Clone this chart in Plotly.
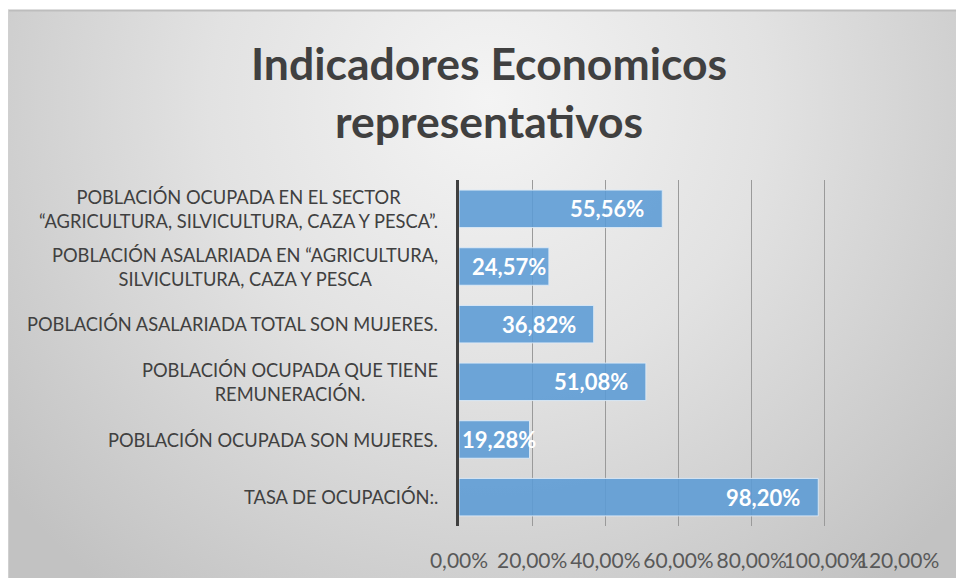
import base64
import plotly.graph_objects as go

# ---- data ----
categories = [
    "POBLACIÓN OCUPADA EN EL SECTOR<br>“AGRICULTURA, SILVICULTURA, CAZA Y PESCA”.",
    "POBLACIÓN ASALARIADA EN “AGRICULTURA,<br>SILVICULTURA, CAZA Y PESCA",
    "POBLACIÓN ASALARIADA TOTAL SON MUJERES.",
    "POBLACIÓN OCUPADA QUE TIENE<br>REMUNERACIÓN.",
    "POBLACIÓN OCUPADA SON MUJERES.",
    "TASA DE OCUPACIÓN:.",
]
values = [0.5556, 0.2457, 0.3682, 0.5108, 0.1928, 0.9820]
x_ticks = [0, 0.2, 0.4, 0.6, 0.8, 1.0, 1.2]
title_text = "Indicadores Economicos<br>representativos"

# ---- layout geometry (pixels) ----
W, H = 956, 578
L, R, T, B = 459, 898, 180, 526
PW, PH = R - L, B - T
XMAX = 1.2

def px(xp):
    return (xp - L) / PW

def py(yp):
    return (B - yp) / PH

FONT = "Lato, 'Open Sans', sans-serif"
ids = list(range(len(categories)))

fig = go.Figure()
fig.add_trace(go.Bar(
    y=ids, x=values, orientation="h",
    marker=dict(color="rgba(91,155,213,0.88)",
                line=dict(color="rgba(222,235,247,0.9)", width=1)),
    width=0.65,
    hoverinfo="skip",
))

annotations = []
# category labels (centered multi-line, right edge near axis)
for i, c in zip(ids, categories):
    annotations.append(dict(
        x=px(440), xref="paper", y=i, yref="y",
        text=c, showarrow=False, xanchor="right", yanchor="middle",
        align="center", font=dict(family=FONT, size=18.3, color="#404040"),
    ))
# data labels (inside end; centred when the bar is too short)
LABEL_W = 72
for i, v in zip(ids, values):
    bar_px = v / XMAX * PW
    if bar_px >= LABEL_W + 32:
        pos = dict(x=v, xanchor="right", xshift=-16)
    else:
        pos = dict(x=v / 2, xanchor="center", xshift=5)
    annotations.append(dict(
        xref="x", y=i, yref="y",
        text=f"{v*100:.2f}".replace(".", ",") + "%",
        showarrow=False, yanchor="middle",
        font=dict(family=FONT, size=22, color="white", weight="bold"),
        **pos,
    ))
# title
annotations.append(dict(
    x=px(489), xref="paper", y=py(91), yref="paper",
    text=title_text, showarrow=False, xanchor="center", yanchor="middle",
    align="center", font=dict(family=FONT, size=44.5, color="#404040", weight="bold"),
))

# radial gradient background
svg = f'''<svg xmlns="http://www.w3.org/2000/svg" width="{W-8}" height="{H-10}" viewBox="0 0 {W-8} {H-10}" preserveAspectRatio="none">
<defs><radialGradient id="g" gradientUnits="userSpaceOnUse" cx="480" cy="90" r="620">
<stop offset="0" stop-color="#f4f4f4"/><stop offset="0.45" stop-color="#e2e2e2"/><stop offset="1" stop-color="#c2c2c2"/>
</radialGradient></defs>
<rect width="100%" height="100%" fill="url(#g)"/></svg>'''
src = "data:image/svg+xml;base64," + base64.b64encode(svg.encode()).decode()

fig.update_layout(
    width=W, height=H,
    margin=dict(l=L, r=W - R, t=T, b=H - B, pad=0, autoexpand=False),
    paper_bgcolor="white", plot_bgcolor="rgba(0,0,0,0)",
    separators=",.",
    showlegend=False,
    bargap=0.35,
    annotations=annotations,
    images=[dict(source=src, xref="paper", yref="paper",
                 x=px(8), y=py(10), sizex=px(W) - px(8), sizey=py(10) - py(H),
                 xanchor="left", yanchor="top", sizing="stretch", layer="below")],
    shapes=[dict(type="line", xref="paper", yref="paper",
                 x0=px(8), x1=px(W), y0=py(10.5), y1=py(10.5),
                 line=dict(color="#bdbdbd", width=2)),
            dict(type="line", xref="paper", yref="paper",
                 x0=px(8.5), x1=px(8.5), y0=py(10), y1=py(H),
                 line=dict(color="#d0d0d0", width=1))],
    xaxis=dict(range=[0, XMAX], tickvals=x_ticks, tickformat=".2%",
               showgrid=True, gridcolor="#9a9a9a", gridwidth=1,
               zeroline=False, showline=False, ticks="",
               tickangle=0, automargin=False,
               ticklabelstandoff=20,
               tickfont=dict(family=FONT, size=21, color="#595959")),
    yaxis=dict(range=[len(categories) - 0.5, -0.5], showticklabels=False,
               automargin=False,
               showgrid=False, zeroline=False, showline=True,
               linecolor="#404040", linewidth=3, ticks=""),
)

fig.write_html("out.html", config={"displayModeBar": False},
               post_script="document.body.style.margin='0';")
